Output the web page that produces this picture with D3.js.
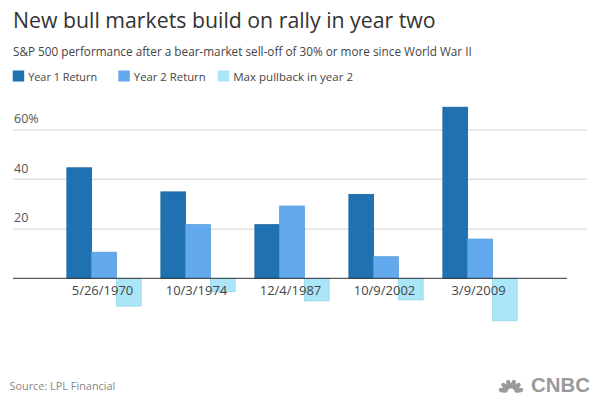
<!DOCTYPE html>
<meta charset="utf-8">
<head>
    <title>New bull markets build on rally in year two</title>
    <style>
        body { margin: 0; background: #fff; }
        text { font-family: "Open Sans", "Noto Sans", sans-serif; }
    </style>
</head>
<body>
<div id="chart"></div>
<script src="https://d3js.org/d3.v7.min.js"></script>
<script>

// data (percent)
var dates = ["5/26/1970", "10/3/1974", "12/4/1987", "10/9/2002", "3/9/2009"];
var year1 = [44.5, 34.8, 21.6, 33.8, 68.9];
var year2 = [10.5, 21.6, 29.1, 8.7, 15.8];
var pullback = [-11.2, -5.4, -9.1, -8.7, -17.1];
var seriesNames = ["Year 1 Return", "Year 2 Return", "Max pullback in year 2"];
var yTicks = [20, 40, 60];

var colors = ["#1f71b1", "#63a9ee", "#aae5f8"];
var strokes = ["#1b629b", "#5a9ad9", "#95d6ec"];

var width = 600, height = 398;

var svg = d3.select("#chart")
    .append("svg")
    .attr("width", width)
    .attr("height", height);

// scale the font so the text spans a given width
function fit(sel, w) {
    var fs = parseFloat(sel.style("font-size"));
    var len = sel.node().getComputedTextLength();
    sel.style("font-size", (fs * w / len) + "px");
    return sel;
}

// title + subtitle
fit(svg.append("text")
    .attr("x", 13).attr("y", 27.5)
    .style("font-size", "21px")
    .style("fill", "#333")
    .text("New bull markets build on rally in year two"), 423);

fit(svg.append("text")
    .attr("x", 13).attr("y", 55.5)
    .style("font-size", "12px")
    .style("fill", "#444")
    .text("S&P 500 performance after a bear-market sell-off of 30% or more since World War II"), 459);

// legend
var legendX = [12.7, 118.3, 217.7];
var legendW = [69, 72, 120];
seriesNames.forEach(function(name, i) {
    svg.append("rect")
        .attr("x", legendX[i]).attr("y", 70.5)
        .attr("width", 11.5).attr("height", 11)
        .style("fill", colors[i]);
    fit(svg.append("text")
        .attr("x", legendX[i] + 15.5).attr("y", 80.5)
        .style("font-size", "13px")
        .style("fill", "#444")
        .text(name), legendW[i]);
});

// scales
var x = d3.scaleBand()
    .domain(dates)
    .range([57, 527])
    .paddingInner(0.21)
    .paddingOuter(0.105);

var xSub = d3.scaleBand()
    .domain([0, 1, 2])
    .range([0, x.bandwidth()]);

var y = d3.scaleLinear()
    .domain([0, 60])
    .range([278.3, 129.3]);

// grid lines + labels
var yAxis = d3.axisRight(y)
    .tickValues(yTicks)
    .tickSize(574)
    .tickFormat(function(d) { return d == 60 ? d + "%" : d; });

var gy = svg.append("g")
    .attr("transform", "translate(13,0)")
    .call(yAxis);
gy.select(".domain").remove();
gy.selectAll(".tick line")
    .style("stroke", "#dcdcdc")
    .style("stroke-width", 1.3);
gy.selectAll(".tick text")
    .attr("x", 1)
    .attr("dy", "-0.55em")
    .style("text-anchor", "start")
    .style("font-family", "'Open Sans', sans-serif")
    .style("font-size", "12.5px")
    .style("fill", "#555");

// bars
var series = [year1, year2, pullback];
series.forEach(function(vals, s) {
    svg.append("g")
        .selectAll("rect")
        .data(vals)
        .enter()
        .append("rect")
        .attr("x", function(d, i) { return x(dates[i]) + xSub(s) })
        .attr("y", function(d) { return y(Math.max(0, d)) })
        .attr("width", xSub.bandwidth())
        .attr("height", function(d) { return Math.abs(y(d) - y(0)) })
        .style("fill", colors[s])
        .style("stroke", strokes[s])
        .style("stroke-width", 0.8);
});

// baseline
svg.append("line")
    .attr("x1", 13).attr("x2", 567)
    .attr("y1", y(0)).attr("y2", y(0))
    .style("stroke", "#333")
    .style("stroke-width", 1);

// category labels
var gx = svg.append("g")
    .attr("transform", "translate(0," + y(0) + ")")
    .call(d3.axisBottom(x).tickSize(0));
gx.select(".domain").remove();
gx.selectAll(".tick text")
    .attr("x", -1.5)
    .attr("y", 17)
    .attr("dy", 0)
    .style("font-family", "'Open Sans', sans-serif")
    .style("font-size", "13px")
    .style("fill", "#444");

// footer
fit(svg.append("text")
    .attr("x", 9.5).attr("y", 389.5)
    .style("font-size", "11.5px")
    .style("fill", "#888")
    .text("Source: LPL Financial"), 106);

// CNBC peacock (rough) + wordmark
var peacock = svg.append("g").attr("transform", "translate(511,392)");
[-78, -47, -16, 16, 47, 78].forEach(function(a) {
    peacock.append("ellipse")
        .attr("cx", 0).attr("cy", -8)
        .attr("rx", 2.3).attr("ry", 4.6)
        .attr("transform", "rotate(" + a + ")")
        .style("fill", "#9a9a9a");
});
fit(svg.append("text")
    .attr("x", 531).attr("y", 391.5)
    .style("font-family", "'Liberation Sans', Arial, sans-serif")
    .style("font-weight", "bold")
    .style("font-size", "13px")
    .style("fill", "#9a9a9a")
    .text("CNBC"), 59);

</script>
</body>
